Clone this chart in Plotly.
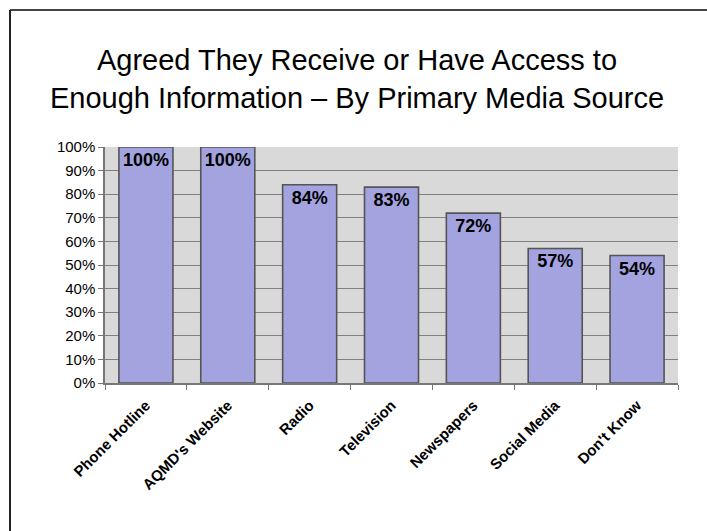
import plotly.graph_objects as go

categories = ["Phone Hotline", "AQMD's Website", "Radio", "Television",
              "Newspapers", "Social Media", "Don't Know"]
values = [100, 100, 84, 83, 72, 57, 54]
y_ticks = [0, 10, 20, 30, 40, 50, 60, 70, 80, 90, 100]
y_tick_labels = [f"{v}%" for v in y_ticks]

W, H = 707, 531
L, R, T, B = 105, 29, 147, 148
pw, ph = W - L - R, H - T - B


def px_x(x):
    return (x - L) / pw


def px_y(y):
    return (H - B - y) / ph


FONT = "Liberation Sans, Arial, sans-serif"

fig = go.Figure(
    go.Bar(
        x=categories,
        y=values,
        width=0.66,
        marker=dict(color="#A3A3E0", line=dict(color="#555555", width=1.6)),
        text=[f"{v}%" for v in values],
        textposition="inside",
        insidetextanchor="end",
        textangle=0,
        textfont=dict(family=FONT, size=18, color="black", weight="bold"),
        cliponaxis=False,
    )
)

fig.update_layout(
    width=W,
    height=H,
    margin=dict(l=L, r=R, t=T, b=B),
    paper_bgcolor="white",
    plot_bgcolor="#D9D9D9",
    showlegend=False,
    font=dict(family=FONT, color="black"),
    title=dict(
        text="Agreed They Receive or Have Access to<br>Enough Information \u2013 By Primary Media Source",
        x=357 / W,
        xanchor="center",
        xref="container",
        y=1 - 70 / H,
        yanchor="top",
        yref="container",
        font=dict(size=29, color="black"),
    ),
    bargap=0.34,
)

fig.update_xaxes(
    type="category",
    tickangle=-45,
    tickfont=dict(size=15, weight="bold"),
    ticks="outside",
    tickson="boundaries",
    ticklen=5,
    ticklabelstandoff=6,
    tickcolor="#777777",
    showline=True,
    linecolor="#777777",
    linewidth=1.5,
    showgrid=False,
)

fig.update_yaxes(
    range=[0, 100],
    tickvals=y_ticks,
    ticktext=y_tick_labels,
    tickfont=dict(size=15),
    ticks="outside",
    ticklen=5,
    tickcolor="#777777",
    showline=True,
    linecolor="#777777",
    linewidth=1.5,
    showgrid=True,
    gridcolor="#808080",
    gridwidth=1,
    zeroline=False,
)

# outer frame around the slide area (top and left edges)
fig.add_shape(type="line", xref="paper", yref="paper",
              x0=px_x(10), x1=px_x(W + 5), y0=px_y(10), y1=px_y(10),
              line=dict(color="#444444", width=2))
fig.add_shape(type="line", xref="paper", yref="paper",
              x0=px_x(10), x1=px_x(10), y0=px_y(10), y1=px_y(H + 5),
              line=dict(color="#222222", width=2))

fig.write_html("out.html")
